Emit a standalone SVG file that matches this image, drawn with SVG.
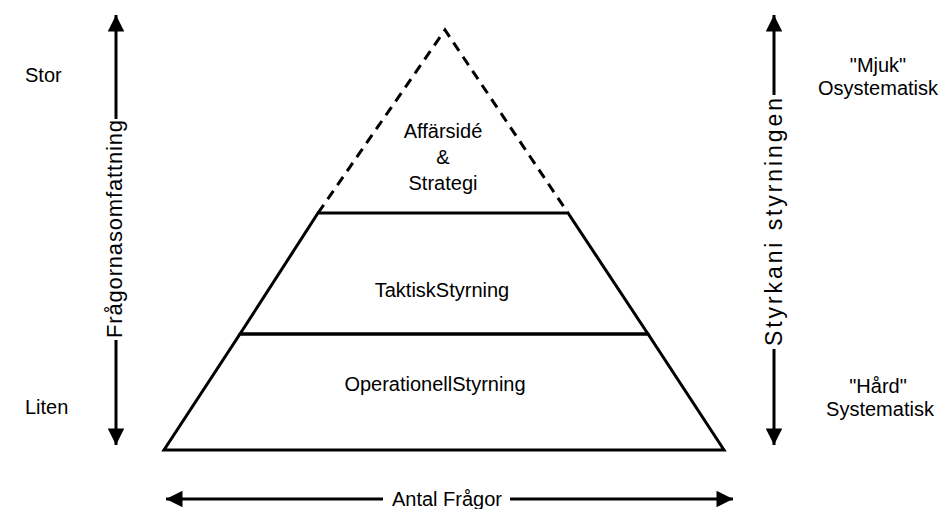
<svg xmlns="http://www.w3.org/2000/svg" width="946" height="509" viewBox="0 0 946 509">
<defs>
<marker id="ah" viewBox="0 0 10 10" refX="10" refY="5" markerWidth="7.7" markerHeight="5.5" markerUnits="strokeWidth" orient="auto">
<path d="M0,0 L10,5 L0,10 z" fill="#000"/>
</marker>
</defs>
<style>
text{font-family:"Liberation Sans",Arial,sans-serif;font-size:20px;fill:#000}
.c{text-anchor:middle}
.v{font-size:22px}
.v2{font-size:23px}
.edge{stroke:#000;stroke-width:3;fill:none}
.dash{stroke:#000;stroke-width:3;fill:none;stroke-dasharray:10,7}
</style>
<rect width="946" height="509" fill="#fff"/>
<g id="pyramid">
<g id="top">
<path class="dash" d="M318,213 L445,30 L568,213"/>
<text class="c" x="443" y="138">Affärsidé</text>
<text class="c" x="443" y="164">&amp;</text>
<text class="c" x="443" y="190">Strategi</text>
</g>
<g id="middle">
<path class="edge" d="M318,213 L568,213 L648,334 L240,334 Z"/>
<text class="c" x="442" y="297">TaktiskStyrning</text>
</g>
<g id="bottom">
<path class="edge" d="M240,334 L648,334 L724,450 L164,450 Z"/>
<text class="c" x="435" y="391">OperationellStyrning</text>
</g>
</g>
<g id="labels">
<text x="25" y="82">Stor</text>
<text x="25" y="414">Liten</text>
<text class="c" x="878" y="72">"Mjuk"</text>
<text class="c" x="878" y="95">Osystematisk</text>
<text class="c" x="878" y="393">"Hård"</text>
<text class="c" x="880" y="416">Systematisk</text>
</g>
<g id="connectors">
<line class="edge" x1="116" y1="119" x2="116" y2="15" marker-end="url(#ah)"/>
<line class="edge" x1="116" y1="340" x2="116" y2="445" marker-end="url(#ah)"/>
<line class="edge" x1="774" y1="95" x2="774" y2="15" marker-end="url(#ah)"/>
<line class="edge" x1="774" y1="349" x2="774" y2="445" marker-end="url(#ah)"/>
<line class="edge" x1="383" y1="499" x2="166" y2="499" marker-end="url(#ah)"/>
<line class="edge" x1="510" y1="499" x2="733" y2="499" marker-end="url(#ah)"/>
<text class="c v" transform="translate(122,229) rotate(-90)" textLength="218" lengthAdjust="spacing">Frågornasomfattning</text>
<text class="c v2" transform="translate(782,222) rotate(-90)" textLength="248" lengthAdjust="spacing">Styrkani styrningen</text>
<text class="c" x="447" y="506">Antal Frågor</text>
</g>
</svg>
